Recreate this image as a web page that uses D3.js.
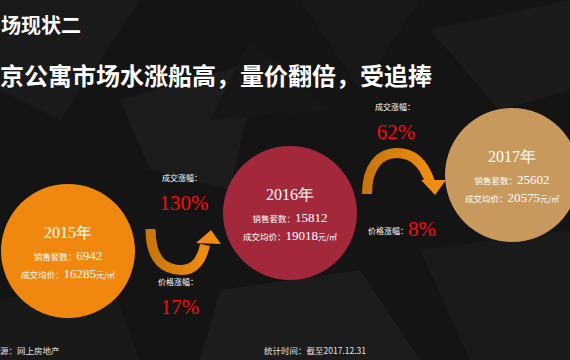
<!DOCTYPE html>
<html>
<head>
<meta charset="utf-8">
<script src="https://cdn.jsdelivr.net/npm/d3@7"></script>
<style>
  html, body { margin: 0; padding: 0; background: #141414; }
  svg { display: block; }
</style>
</head>
<body>
<script>
// data
var years = ["2015年", "2016年", "2017年"];
var salesCount = [6942, 15812, 25602];
var avgPrice = [16285, 19018, 20575];
var volumeGrowth = ["130%", "62%"];
var priceGrowth = ["17%", "8%"];
var circleColors = ["#f0870f", "#a3283b", "#c8995d"];

var width = 570, height = 360;
var cjk = "'Noto Sans CJK SC', sans-serif";
var serif = "'Liberation Serif', 'DejaVu Serif', serif";

var svg = d3.select("body")
        .append("svg")
        .attr("width", width)
        .attr("height", height);

// background facets
svg.append("rect").attr("width", width).attr("height", height).attr("fill", "#141414");
var shards = [
    [[0, 0], [140, 0], [60, 120], [0, 90]],
    [[120, 100], [260, 60], [230, 190], [150, 170]],
    [[300, 0], [420, 0], [360, 90]],
    [[430, 30], [570, 0], [570, 90], [500, 110]],
    [[0, 300], [110, 280], [140, 360], [0, 360]],
    [[220, 290], [360, 270], [420, 360], [200, 360]],
    [[420, 250], [570, 230], [570, 360], [470, 360]],
    [[250, 40], [330, 110], [210, 120]]
];
var shardFill = ["#1a1a1a", "#1c1c1c", "#181818", "#1b1b1b", "#191919", "#1c1c1c", "#1a1a1a", "#171717"];
svg.selectAll("polygon.shard")
    .data(shards)
    .enter()
    .append("polygon")
    .attr("class", "shard")
    .attr("points", function(d) { return d.map(function(p) { return p.join(","); }).join(" "); })
    .attr("fill", function(d, i) { return shardFill[i]; });

// titles
svg.append("text")
    .attr("x", 1).attr("y", 33)
    .attr("fill", "#ffffff")
    .attr("font-family", cjk).attr("font-weight", "bold").attr("font-size", 20)
    .text("场现状二");
svg.append("text")
    .attr("x", 0).attr("y", 85)
    .attr("fill", "#ffffff")
    .attr("font-family", cjk).attr("font-weight", "bold").attr("font-size", 24)
    .text("京公寓市场水涨船高，量价翻倍，受追捧");

// scales
var x = d3.scalePoint().domain(years).range([68, 512]);
var y = d3.scalePoint().domain(years).range([251, 175]);
var r = 67;

var defs = svg.append("defs");
var grad = defs.append("linearGradient").attr("id", "arrowGrad")
    .attr("x1", "0%").attr("y1", "0%").attr("x2", "100%").attr("y2", "0%");
grad.append("stop").attr("offset", "0%").attr("stop-color", "#c8760c");
grad.append("stop").attr("offset", "100%").attr("stop-color", "#f08c12");

// circles
var groups = svg.selectAll("g.year")
    .data(years)
    .enter()
    .append("g")
    .attr("class", "year")
    .attr("transform", function(d) { return "translate(" + x(d) + "," + y(d) + ")"; });

groups.append("circle")
    .attr("r", r)
    .attr("fill", function(d, i) { return circleColors[i]; });

groups.append("text")
    .attr("y", -13)
    .attr("text-anchor", "middle")
    .attr("fill", "#ffffff")
    .attr("font-family", serif)
    .attr("font-size", 16)
    .text(function(d) { return d; });

var line1 = groups.append("text")
    .attr("y", 9)
    .attr("text-anchor", "middle")
    .attr("fill", "#ffffff");
line1.append("tspan").attr("font-family", cjk).attr("font-size", 8.5).text("销售套数：");
line1.append("tspan").attr("font-family", serif).attr("font-size", 13)
    .text(function(d, i) { return salesCount[i]; });

var line2 = groups.append("text")
    .attr("y", 27)
    .attr("text-anchor", "middle")
    .attr("fill", "#ffffff");
line2.append("tspan").attr("font-family", cjk).attr("font-size", 8.5).text("成交均价：");
line2.append("tspan").attr("font-family", serif).attr("font-size", 13)
    .text(function(d, i) { return avgPrice[i]; });
line2.append("tspan").attr("font-family", cjk).attr("font-size", 8).text("元/㎡");

// arrows
var arrowPaths = [
    "M150.5,229 C150.5,262 166,270 182,270 C195,270 202,259 205,245",
    "M367,194 C367,166 380,153 397,153 C413,153 424,164 430,182"
];
var arrowHeads = [
    [[211, 230], [196, 243], [221, 244]],
    [[421, 180], [446, 180], [435, 195]]
];
var arrowWidths = [10, 10];

svg.selectAll("path.arrow")
    .data(arrowPaths)
    .enter()
    .append("path")
    .attr("class", "arrow")
    .attr("d", function(d) { return d; })
    .attr("fill", "none")
    .attr("stroke", "url(#arrowGrad)")
    .attr("stroke-width", function(d, i) { return arrowWidths[i]; });

svg.selectAll("polygon.head")
    .data(arrowHeads)
    .enter()
    .append("polygon")
    .attr("class", "head")
    .attr("points", function(d) { return d.map(function(p) { return p.join(","); }).join(" "); })
    .attr("fill", "#f08c12");

// growth labels, 2015 -> 2016
svg.append("text").attr("x", 182).attr("y", 181)
    .attr("text-anchor", "middle").attr("fill", "#ffffff")
    .attr("font-family", cjk).attr("font-size", 8)
    .text("成交涨幅：");
svg.append("text").attr("x", 184).attr("y", 210)
    .attr("text-anchor", "middle").attr("fill", "#ff0a0a")
    .attr("font-family", serif).attr("font-size", 21)
    .text(volumeGrowth[0]);
svg.append("text").attr("x", 178).attr("y", 285)
    .attr("text-anchor", "middle").attr("fill", "#ffffff")
    .attr("font-family", cjk).attr("font-size", 8)
    .text("价格涨幅：");
svg.append("text").attr("x", 180).attr("y", 314)
    .attr("text-anchor", "middle").attr("fill", "#ff0a0a")
    .attr("font-family", serif).attr("font-size", 21)
    .text(priceGrowth[0]);

// 2016 -> 2017
svg.append("text").attr("x", 395).attr("y", 110)
    .attr("text-anchor", "middle").attr("fill", "#ffffff")
    .attr("font-family", cjk).attr("font-size", 8)
    .text("成交涨幅：");
svg.append("text").attr("x", 396).attr("y", 139)
    .attr("text-anchor", "middle").attr("fill", "#ff0a0a")
    .attr("font-family", serif).attr("font-size", 21)
    .text(volumeGrowth[1]);
svg.append("text").attr("x", 388).attr("y", 234)
    .attr("text-anchor", "middle").attr("fill", "#ffffff")
    .attr("font-family", cjk).attr("font-size", 8)
    .text("价格涨幅：");
svg.append("text").attr("x", 422).attr("y", 236)
    .attr("text-anchor", "middle").attr("fill", "#ff0a0a")
    .attr("font-family", serif).attr("font-size", 21)
    .text(priceGrowth[1]);

// footer
svg.append("text").attr("x", 0).attr("y", 354)
    .attr("fill", "#e0e0e0")
    .attr("font-family", cjk).attr("font-size", 8.5)
    .text("源：网上房地产");
svg.append("text").attr("x", 264).attr("y", 354)
    .attr("fill", "#e0e0e0")
    .attr("font-family", cjk).attr("font-size", 8.5)
    .text("统计时间：截至2017.12.31");
</script>
</body>
</html>
